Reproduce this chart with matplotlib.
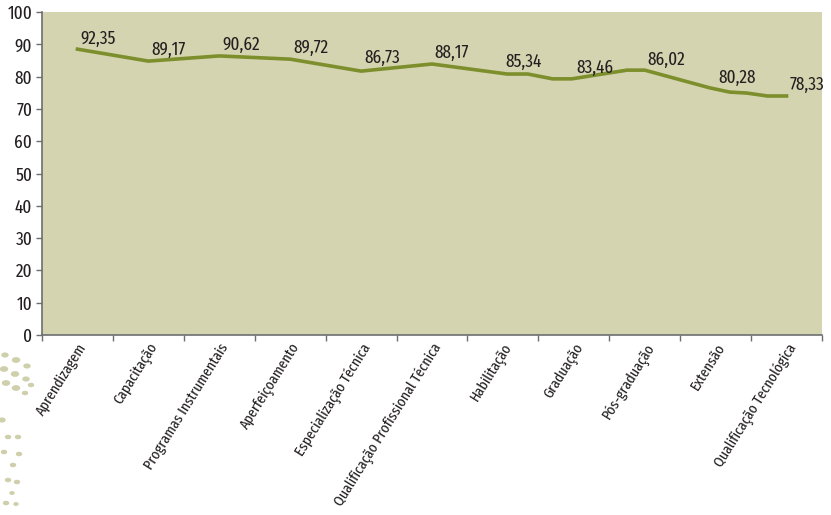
import matplotlib
matplotlib.use("Agg")
import matplotlib.pyplot as plt
from matplotlib.patches import Circle

plt.rcParams['font.family'] = ['Fira Sans Extra Condensed', 'Fira Sans Condensed', 'DejaVu Sans']

categories = ['Aprendizagem', 'Capacitação', 'Programas Instrumentais',
              'Aperfeiçoamento', 'Especialização Técnica',
              'Qualificação Profissional Técnica', 'Habilitação', 'Graduação',
              'Pós-graduação', 'Extensão', 'Qualificação Tecnológica']
values = [92.35, 89.17, 90.62, 89.72, 86.73, 88.17, 85.34, 83.46, 86.02, 80.28, 78.33]
labels = ['92,35', '89,17', '90,62', '89,72', '86,73', '88,17', '85,34',
          '83,46', '86,02', '80,28', '78,33']

# the drawn line in the original sits below the labels; trace
# (x in category units, y in axis units)
trace_x = [0, 1, 2, 3, 4, 5, 6.06, 6.35, 6.70, 6.97, 7.75, 8.0, 8.92, 9.20, 9.44, 9.73, 10.0]
trace_y = [88.5, 84.8, 86.4, 85.4, 81.7, 83.9, 80.8, 80.8, 79.3, 79.3, 82.0, 82.0,
           76.5, 75.2, 74.9, 74.0, 74.0]

bg = '#d5d4b0'
line_c = '#7d8f2c'
txt_c = '#231f20'

fig = plt.figure(figsize=(8.31, 5.15), dpi=100)
ax = fig.add_axes([42 / 831, 1 - 335 / 515, 780 / 831, 323 / 515])
ax.set_facecolor(bg)

ax.plot(trace_x, trace_y, color=line_c, lw=2.6, solid_joinstyle='round')

for i, (v, t) in enumerate(zip(values, labels)):
    ax.text(i + 0.04, v - 0.8, t, ha='left', va='center', fontsize=13.5, color=txt_c)

ax.set_xlim(-0.5, len(categories) - 0.5)
ax.set_ylim(0, 100)
ax.set_yticks(range(0, 101, 10))
ax.set_xticks(range(len(categories)))
ax.set_xticklabels(categories, rotation=58, ha='right', rotation_mode='anchor',
                   fontsize=11, color=txt_c)
ax.set_xticks([i - 0.5 for i in range(len(categories) + 1)], minor=True)
ax.tick_params(axis='x', which='major', length=0, pad=4)
ax.tick_params(axis='x', which='minor', length=4, color='#6d6e71', width=1)
ax.tick_params(axis='y', length=4, color='#6d6e71', width=1, labelsize=13.5,
               labelcolor=txt_c, pad=3)

for s in ['top', 'right']:
    ax.spines[s].set_visible(False)
for s in ['left', 'bottom']:
    ax.spines[s].set_color('#6d6e71')
    ax.spines[s].set_linewidth(1.2)

# decorative dots bottom-left
dots = [(5, 355, 3), (16, 360, 3.5), (27, 366, 3), (4, 369, 3.5), (15, 374, 3.5),
        (26, 379, 3), (6, 383, 3.5), (16, 388, 3.5), (31, 385, 2.5), (25, 393, 2.5),
        (2, 420, 3), (8, 437, 2.5), (18, 437, 2.5), (4, 452, 2.5), (13, 465, 2.5),
        (19, 454, 2.5), (8, 480, 2.5), (17, 482, 2.5), (12, 493, 2), (6, 503, 2.5),
        (16, 504, 2)]
for x, y, r in dots:
    fig.patches.append(Circle((x / 831, 1 - y / 515), r / 831, transform=fig.transFigure,
                              color='#cfd0ab', zorder=0))

fig.savefig('out.png', dpi=100)
